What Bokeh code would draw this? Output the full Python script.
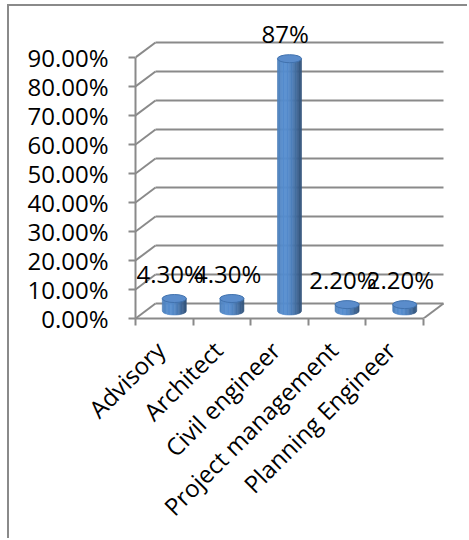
import numpy as np
from bokeh.plotting import figure
from bokeh.models import FixedTicker, Range1d, ColumnDataSource
from bokeh.core.properties import value
from bokeh.embed import file_html
from bokeh.resources import INLINE

# ---- data ----------------------------------------------------------------
categories = ["Advisory", "Architect", "Civil engineer",
              "Project management", "Planning Engineer"]
shares = [4.3, 4.3, 87.0, 2.2, 2.2]                  # percent
share_labels = ["4.30%", "4.30%", "87%", "2.20%", "2.20%"]
y_ticks = [0, 10, 20, 30, 40, 50, 60, 70, 80, 90]
y_tick_labels = ["0.00%", "10.00%", "20.00%", "30.00%", "40.00%",
                 "50.00%", "60.00%", "70.00%", "80.00%", "90.00%"]

# ---- geometry / style ----------------------------------------------------
FONT = "Open Sans"
FONT_SIZE = "24px"
GRID = "#8a8a8a"
PX_X = 57.6            # screen pixels per category slot
PX_Y = 2.9             # screen pixels per percentage point
DEPTH_X = 20 / PX_X    # 3-D depth offset, in data units
DEPTH_Y = 15 / PX_Y
BAR_RX = 12 / PX_X     # cylinder radius
BAR_RY = 4 / PX_Y      # half-height of the cylinder's end ellipses
LABEL_SHIFT = -4 / PX_X  # rotated category labels sit a little left of centre

W, H = 460, 534
B_LEFT, B_RIGHT, B_TOP, B_BOTTOM = 126, 9, 14, 222
frame_w = W - B_LEFT - B_RIGHT
frame_h = H - B_TOP - B_BOTTOM

n = len(categories)

p = figure(width=W, height=H,
           x_range=Range1d(0, frame_w / PX_X),
           y_range=Range1d(0, frame_h / PX_Y),
           min_border_left=B_LEFT, min_border_right=B_RIGHT,
           min_border_top=B_TOP, min_border_bottom=B_BOTTOM,
           output_backend="svg", toolbar_location=None,
           margin=(4, 0, 0, 7))
p.styles = {"border-top": "2px solid #8a8a8a",
            "border-left": "2px solid #8a8a8a"}
p.outline_line_color = None
p.background_fill_color = "white"
p.border_fill_color = "white"
p.xgrid.visible = False
p.ygrid.visible = False

# ---- value axis (front left edge) ----------------------------------------
ya = p.yaxis[0]
ya.ticker = FixedTicker(ticks=y_ticks, minor_ticks=[])
ya.major_label_overrides = {t: s for t, s in zip(y_ticks, y_tick_labels)}
ya.bounds = (y_ticks[0], y_ticks[-1])
ya.axis_line_color = GRID
ya.axis_line_width = 2
ya.major_tick_line_color = GRID
ya.major_tick_line_width = 2
ya.major_tick_out = 7
ya.major_tick_in = 0
ya.minor_tick_line_color = None
ya.major_label_standoff = 20
ya.major_label_text_font = FONT
ya.major_label_text_font_size = FONT_SIZE
ya.major_label_text_color = "black"

# ---- category axis (front floor edge) ------------------------------------
centers = [i + 0.5 for i in range(n)]
label_pos = [c + LABEL_SHIFT for c in centers]
xa = p.xaxis[0]
xa.ticker = FixedTicker(ticks=label_pos, minor_ticks=list(range(n + 1)))
xa.major_label_overrides = {c: s for c, s in zip(label_pos, categories)}
xa.bounds = (0, n)
xa.axis_line_color = GRID
xa.axis_line_width = 2
xa.major_tick_line_color = None
xa.minor_tick_line_color = GRID
xa.minor_tick_line_width = 2
xa.minor_tick_out = 7
xa.minor_tick_in = 0
xa.major_label_orientation = np.pi / 4
xa.major_label_standoff = 20
xa.major_label_text_font = FONT
xa.major_label_text_font_size = FONT_SIZE
xa.major_label_text_color = "black"

# ---- 3-D walls: back wall gridlines, side-wall diagonals, floor edge ------
back_y = [t + DEPTH_Y for t in y_ticks]
p.segment(x0=[DEPTH_X] * len(y_ticks), y0=back_y,
          x1=[n + DEPTH_X] * len(y_ticks), y1=back_y,
          line_color=GRID, line_width=2)
p.segment(x0=[0] * len(y_ticks), y0=y_ticks,
          x1=[DEPTH_X] * len(y_ticks), y1=back_y,
          line_color=GRID, line_width=2)
p.segment(x0=[n], y0=[0], x1=[n + DEPTH_X], y1=[DEPTH_Y],
          line_color=GRID, line_width=2)

# ---- cylinders -----------------------------------------------------------
BASE = np.array([79, 129, 189], dtype=float)


def shade(t):
    k = 0.78 + 0.32 * np.cos((t - 0.32) * np.pi * 0.95)
    c = np.clip(BASE * k, 0, 255).astype(int)
    return "#%02x%02x%02x" % tuple(c)


N_STRIPS = 18
strip_xs, strip_ys, strip_cols = [], [], []
top_x, top_y = [], []
for i, v in enumerate(shares):
    xc = i + 0.5 + DEPTH_X / 2
    yb = DEPTH_Y / 2
    yt = v + DEPTH_Y / 2
    edges = np.linspace(xc - BAR_RX, xc + BAR_RX, N_STRIPS + 1)
    for k in range(N_STRIPS):
        xa_, xb_ = edges[k], edges[k + 1]
        sub = np.linspace(xa_, xb_, 4)
        u = np.clip((sub - xc) / BAR_RX, -1, 1)
        bottom = yb - BAR_RY * np.sqrt(1 - u ** 2)
        xs = [xa_, xb_] + list(sub[::-1])
        ys = [yt, yt] + list(bottom[::-1])
        strip_xs.append(xs)
        strip_ys.append(ys)
        strip_cols.append(shade((k + 0.5) / N_STRIPS))
    top_x.append(xc)
    top_y.append(yt)

p.patches(xs=strip_xs, ys=strip_ys, fill_color=strip_cols,
          line_color=strip_cols, line_width=0.6)
p.ellipse(x=top_x, y=top_y, width=2 * BAR_RX, height=2 * BAR_RY,
          fill_color="#5a8ccb", line_color="#4172ae", line_width=1)

# ---- value labels --------------------------------------------------------
lab_src = ColumnDataSource(dict(
    x=[c + 0.1 for c in centers],
    y=[v + DEPTH_Y / 2 + 25 / PX_Y for v in shares],
    text=share_labels))
p.text(x="x", y="y", text="text", source=lab_src,
       text_align="center", text_baseline="alphabetic",
       text_font=value(FONT), text_font_size=FONT_SIZE, text_color="black")

open("out.html", "w").write(file_html(p, INLINE))
